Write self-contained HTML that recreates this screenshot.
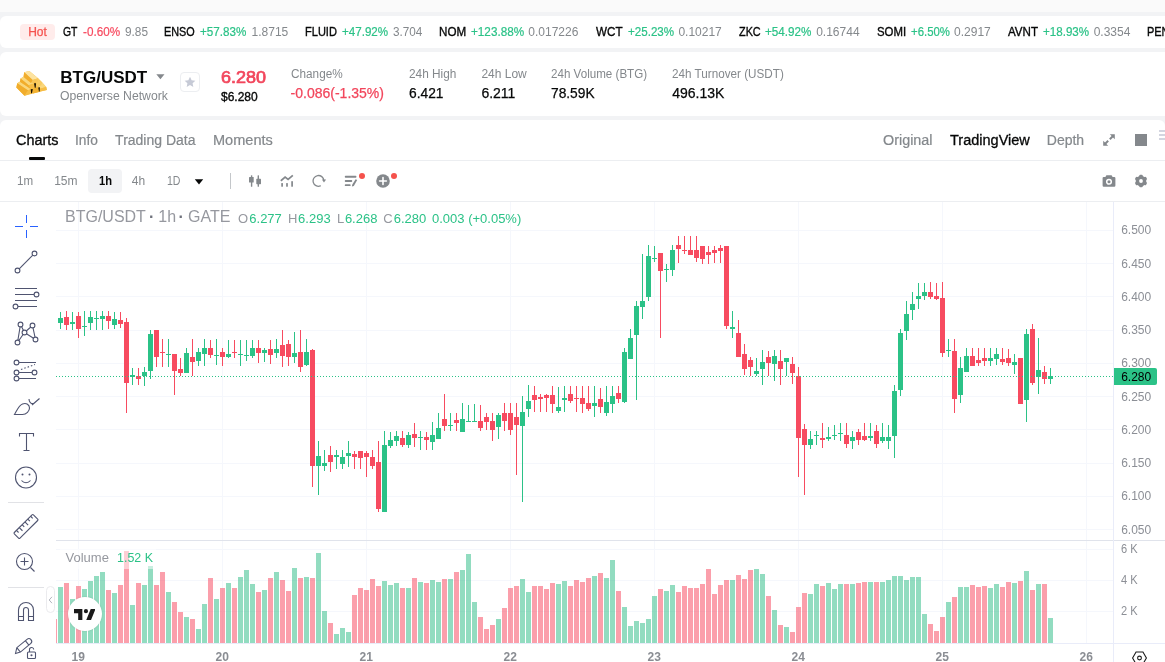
<!DOCTYPE html>
<html lang="en"><head><meta charset="utf-8"><title>BTG/USDT</title><style>
html,body{margin:0;padding:0}
body{width:1165px;height:662px;overflow:hidden;position:relative;background:#f2f3f5;font-family:"Liberation Sans",sans-serif}
.a,.t,.card,.top,.hot,.star{position:absolute}
.t{white-space:nowrap;display:block}
.top{left:0;top:0;width:1165px;height:12px;background:#fafafa}
.card{left:0;width:1165px;background:#fff}
.hot{left:20px;top:24px;width:35px;height:16px;border-radius:4px;background:#ffeceb;color:#f5534f;font-size:12px;line-height:17px;text-align:center;-webkit-text-stroke:0.25px #f5534f}
.star{left:180px;top:72px;width:20px;height:20px;box-sizing:border-box;border:1px solid #eceef1;border-radius:4px;display:flex;align-items:center;justify-content:center;background:#fff}
</style></head><body>
<div class="top"></div>
<div class="card" style="top:16px;height:32px;border-radius:6px 0 0 6px"></div>
<div class="hot">Hot</div>
<span class="t" style="left:63.4px;top:23.0px;font-size:12px;line-height:18px;color:#070808;transform:scaleX(0.8641);transform-origin:0 50%;-webkit-text-stroke:0.35px #070808;">GT</span>
<span class="t" style="left:83.2px;top:23.0px;font-size:12px;line-height:18px;color:#f74b60;transform:scaleX(0.9758);transform-origin:0 50%;-webkit-text-stroke:0.20px #f74b60;">-0.60%</span>
<span class="t" style="left:124.6px;top:23.0px;font-size:12px;line-height:18px;color:#84888c;transform:scaleX(0.9848);transform-origin:0 50%;">9.85</span>
<span class="t" style="left:164.3px;top:23.0px;font-size:12px;line-height:18px;color:#070808;transform:scaleX(0.9027);transform-origin:0 50%;-webkit-text-stroke:0.35px #070808;">ENSO</span>
<span class="t" style="left:200.4px;top:23.0px;font-size:12px;line-height:18px;color:#2bc287;transform:scaleX(0.9705);transform-origin:0 50%;-webkit-text-stroke:0.20px #2bc287;">+57.83%</span>
<span class="t" style="left:251.6px;top:23.0px;font-size:12px;line-height:18px;color:#84888c;">1.8715</span>
<span class="t" style="left:304.5px;top:23.0px;font-size:12px;line-height:18px;color:#070808;transform:scaleX(0.9201);transform-origin:0 50%;-webkit-text-stroke:0.35px #070808;">FLUID</span>
<span class="t" style="left:341.8px;top:23.0px;font-size:12px;line-height:18px;color:#2bc287;transform:scaleX(0.9663);transform-origin:0 50%;-webkit-text-stroke:0.20px #2bc287;">+47.92%</span>
<span class="t" style="left:392.5px;top:23.0px;font-size:12px;line-height:18px;color:#84888c;transform:scaleX(0.9790);transform-origin:0 50%;">3.704</span>
<span class="t" style="left:438.6px;top:23.0px;font-size:12px;line-height:18px;color:#070808;transform:scaleX(0.9680);transform-origin:0 50%;-webkit-text-stroke:0.35px #070808;">NOM</span>
<span class="t" style="left:470.8px;top:23.0px;font-size:12px;line-height:18px;color:#2bc287;transform:scaleX(0.9764);transform-origin:0 50%;-webkit-text-stroke:0.20px #2bc287;">+123.88%</span>
<span class="t" style="left:528.3px;top:23.0px;font-size:12px;line-height:18px;color:#84888c;">0.017226</span>
<span class="t" style="left:596.0px;top:23.0px;font-size:12px;line-height:18px;color:#070808;transform:scaleX(0.9699);transform-origin:0 50%;-webkit-text-stroke:0.35px #070808;">WCT</span>
<span class="t" style="left:627.9px;top:23.0px;font-size:12px;line-height:18px;color:#2bc287;transform:scaleX(0.9663);transform-origin:0 50%;-webkit-text-stroke:0.20px #2bc287;">+25.23%</span>
<span class="t" style="left:678.4px;top:23.0px;font-size:12px;line-height:18px;color:#84888c;">0.10217</span>
<span class="t" style="left:738.6px;top:23.0px;font-size:12px;line-height:18px;color:#070808;transform:scaleX(0.9042);transform-origin:0 50%;-webkit-text-stroke:0.35px #070808;">ZKC</span>
<span class="t" style="left:765.4px;top:23.0px;font-size:12px;line-height:18px;color:#2bc287;transform:scaleX(0.9726);transform-origin:0 50%;-webkit-text-stroke:0.20px #2bc287;">+54.92%</span>
<span class="t" style="left:816.2px;top:23.0px;font-size:12px;line-height:18px;color:#84888c;">0.16744</span>
<span class="t" style="left:876.6px;top:23.0px;font-size:12px;line-height:18px;color:#070808;transform:scaleX(0.9489);transform-origin:0 50%;-webkit-text-stroke:0.35px #070808;">SOMI</span>
<span class="t" style="left:910.8px;top:23.0px;font-size:12px;line-height:18px;color:#2bc287;transform:scaleX(0.9480);transform-origin:0 50%;-webkit-text-stroke:0.20px #2bc287;">+6.50%</span>
<span class="t" style="left:954.1px;top:23.0px;font-size:12px;line-height:18px;color:#84888c;">0.2917</span>
<span class="t" style="left:1008.0px;top:23.0px;font-size:12px;line-height:18px;color:#070808;transform:scaleX(0.9642);transform-origin:0 50%;-webkit-text-stroke:0.35px #070808;">AVNT</span>
<span class="t" style="left:1043.2px;top:23.0px;font-size:12px;line-height:18px;color:#2bc287;transform:scaleX(0.9663);transform-origin:0 50%;-webkit-text-stroke:0.20px #2bc287;">+18.93%</span>
<span class="t" style="left:1093.7px;top:23.0px;font-size:12px;line-height:18px;color:#84888c;">0.3354</span>
<span class="t" style="left:1147.0px;top:23.0px;font-size:12px;line-height:18px;color:#070808;transform:scaleX(0.9119);transform-origin:0 50%;-webkit-text-stroke:0.35px #070808;">PEN</span>
<div class="card" style="top:52px;height:64px;border-radius:6px 0 0 6px"></div>
<svg class="a" style="left:10px;top:64px" width="50" height="40" viewBox="0 0 828 662"><polygon points="320,115 465,235 530,300 600,380 610,430 480,465 240,525 105,390 120,320 165,290 175,240 225,210 235,135" fill="#f6bd45" /><polygon points="120,320 165,295 345,415 300,440" fill="#fad77c" /><polygon points="120,320 300,440 240,525 105,390" fill="#f1ad2c" /><polygon points="300,440 345,415 350,490 240,525" fill="#f6bd45" /><polygon points="375,415 470,385 480,465 380,490" fill="#f3b230" /><polygon points="470,385 530,300 600,380 495,410" fill="#fad77c" /><polygon points="495,410 600,380 610,430 490,455" fill="#f6bd45" /><polygon points="175,240 225,213 400,320 310,350" fill="#fad77c" /><polygon points="175,240 310,350 345,415 165,292" fill="#f1ad2c" /><polygon points="310,350 400,320 410,395 345,415" fill="#f6bd45" /><polygon points="430,300 465,240 530,300 520,350 440,380" fill="#f8cb62" /><polygon points="235,135 320,115 465,235 375,265" fill="#fde3a0" /><polygon points="235,135 375,265 350,320 225,215" fill="#f1ad2c" /><polygon points="375,265 465,235 462,290 350,320" fill="#f8c658" /><polygon points="398,320 432,318 425,392 410,395" fill="#1a1204" /><polygon points="343,418 378,414 365,482 350,488" fill="#1a1204" /><polygon points="468,388 496,384 492,452 480,460" fill="#1a1204" /></svg>
<span class="t" style="left:60.3px;top:65.5px;font-size:17px;line-height:23px;color:#070808;font-weight:700;">BTG/USDT</span>
<svg class="a" style="left:156px;top:74px" width="9" height="6" viewBox="0 0 9 6"><path d="M0.3 0.3h8.2L4.4 5.2z" fill="#84888c"/></svg>
<span class="t" style="left:60.3px;top:87.2px;font-size:12px;line-height:18px;color:#84888c;transform:scaleX(1.0175);transform-origin:0 50%;">Openverse Network</span>
<div class="star"><svg width="12" height="12" viewBox="0 0 24 24"><path d="M12 1.5l3.2 6.9 7.5.9-5.5 5.2 1.4 7.4L12 18.2l-6.6 3.7 1.4-7.4L1.3 9.3l7.5-.9z" fill="#c6cad6"/></svg></div>
<span class="t" style="left:221.0px;top:66.0px;font-size:16.5px;line-height:22px;color:#f2465c;transform:scaleX(1.0898);transform-origin:0 50%;-webkit-text-stroke:0.70px #f2465c;">6.280</span>
<span class="t" style="left:221.0px;top:87.5px;font-size:12px;line-height:18px;color:#070808;-webkit-text-stroke:0.35px #070808;">$6.280</span>
<span class="t" style="left:290.6px;top:65.2px;font-size:12px;line-height:18px;color:#84888c;transform:scaleX(0.9809);transform-origin:0 50%;">Change%</span>
<span class="t" style="left:290.6px;top:83.2px;font-size:14px;line-height:20px;color:#f2465c;-webkit-text-stroke:0.25px #f2465c;">-0.086(-1.35%)</span>
<span class="t" style="left:409.3px;top:65.2px;font-size:12px;line-height:18px;color:#84888c;transform:scaleX(0.9868);transform-origin:0 50%;">24h High</span>
<span class="t" style="left:409.3px;top:83.2px;font-size:14px;line-height:20px;color:#070808;transform:scaleX(0.9848);transform-origin:0 50%;-webkit-text-stroke:0.25px #070808;">6.421</span>
<span class="t" style="left:481.4px;top:65.2px;font-size:12px;line-height:18px;color:#84888c;">24h Low</span>
<span class="t" style="left:481.4px;top:83.2px;font-size:14px;line-height:20px;color:#070808;-webkit-text-stroke:0.25px #070808;">6.211</span>
<span class="t" style="left:551.4px;top:65.2px;font-size:12px;line-height:18px;color:#84888c;transform:scaleX(0.9670);transform-origin:0 50%;">24h Volume (BTG)</span>
<span class="t" style="left:551.4px;top:83.2px;font-size:14px;line-height:20px;color:#070808;transform:scaleX(0.9826);transform-origin:0 50%;-webkit-text-stroke:0.25px #070808;">78.59K</span>
<span class="t" style="left:672.2px;top:65.2px;font-size:12px;line-height:18px;color:#84888c;transform:scaleX(0.9747);transform-origin:0 50%;">24h Turnover (USDT)</span>
<span class="t" style="left:672.2px;top:83.2px;font-size:14px;line-height:20px;color:#070808;-webkit-text-stroke:0.25px #070808;">496.13K</span>
<div class="card" style="top:120px;height:542px;border-radius:6px 6px 0 0"></div>
<span class="t" style="left:16.2px;top:130.4px;font-size:14px;line-height:20px;color:#070808;transform:scaleX(1.0307);transform-origin:0 50%;-webkit-text-stroke:0.30px #070808;">Charts</span>
<span class="t" style="left:75.2px;top:130.4px;font-size:14px;line-height:20px;color:#84888c;transform:scaleX(0.9807);transform-origin:0 50%;-webkit-text-stroke:0.20px #84888c;">Info</span>
<span class="t" style="left:115.1px;top:130.4px;font-size:14px;line-height:20px;color:#84888c;-webkit-text-stroke:0.20px #84888c;">Trading Data</span>
<span class="t" style="left:213.2px;top:130.4px;font-size:14px;line-height:20px;color:#84888c;transform:scaleX(1.0387);transform-origin:0 50%;-webkit-text-stroke:0.20px #84888c;">Moments</span>
<div class="a" style="left:29px;top:157px;width:16px;height:3px;background:#070808;border-radius:1px"></div>
<span class="t" style="left:883.0px;top:130.4px;font-size:14px;line-height:20px;color:#84888c;transform:scaleX(1.0261);transform-origin:0 50%;-webkit-text-stroke:0.20px #84888c;">Original</span>
<span class="t" style="left:950.0px;top:130.4px;font-size:14px;line-height:20px;color:#070808;transform:scaleX(1.0358);transform-origin:0 50%;-webkit-text-stroke:0.30px #070808;">TradingView</span>
<span class="t" style="left:1046.8px;top:130.4px;font-size:14px;line-height:20px;color:#84888c;-webkit-text-stroke:0.20px #84888c;">Depth</span>
<svg class="a" style="left:1103px;top:134px" width="12" height="12" viewBox="0 0 12 12"><path d="M6.800 0.200H11.800V5.200L10 3.400 7.500 5.900 6.100 4.500 8.600 2zM5.200 11.800H0.200V6.800L2 8.600 4.500 6.100 5.900 7.500 3.400 10z" fill="#84888c"/></svg>
<div class="a" style="left:1135px;top:134px;width:12px;height:12px;background:#84888c"></div>
<div class="a" style="left:1159px;top:130px;width:6px;height:2px;background:#d3d5e0;box-shadow:0 4px 0 #d3d5e0,0 8px 0 #d3d5e0"></div>
<div class="a" style="left:0;top:160px;width:1165px;height:1px;background:#eceef1"></div>
<div class="a" style="left:88px;top:169px;width:34px;height:24px;background:#f2f3f5;border-radius:4px"></div>
<span class="t" style="left:16.9px;top:172.4px;font-size:12px;line-height:18px;color:#84888c;transform:scaleX(0.9658);transform-origin:0 50%;">1m</span>
<span class="t" style="left:54.2px;top:172.4px;font-size:12px;line-height:18px;color:#84888c;">15m</span>
<span class="t" style="left:98.5px;top:172.4px;font-size:12px;line-height:18px;color:#070808;font-weight:700;transform:scaleX(0.9283);transform-origin:0 50%;">1h</span>
<span class="t" style="left:131.8px;top:172.4px;font-size:12px;line-height:18px;color:#84888c;">4h</span>
<span class="t" style="left:166.5px;top:172.4px;font-size:12px;line-height:18px;color:#84888c;transform:scaleX(0.8801);transform-origin:0 50%;">1D</span>
<svg class="a" style="left:194px;top:179px" width="10" height="6" viewBox="0 0 10 6"><path d="M0.8 0.3h8.4L5 5.4z" fill="#070808"/></svg>
<div class="a" style="left:230px;top:173px;width:1px;height:16px;background:#c4c7ca"></div>
<svg class="a" style="left:248px;top:174px" width="14" height="14" viewBox="0 0 14 14"><g fill="#84888c"><rect x="1" y="2.900" width="4.700" height="5.600" rx="0.600"/><rect x="2.900" y="1.200" width="1.400" height="11.500" rx="0.500"/><rect x="8.300" y="4.800" width="4.700" height="5.400" rx="0.600"/><rect x="9.600" y="1.200" width="1.400" height="11.500" rx="0.500"/></g></svg>
<svg class="a" style="left:280px;top:174px" width="14" height="14" viewBox="0 0 14 14"><g fill="none" stroke="#84888c" stroke-width="1.700" stroke-linecap="square" stroke-linejoin="miter"><path d="M1.500 6.200l3.600-3.200 3 2.500 4.100-3.600"/></g><g fill="#84888c"><rect x="1.250" y="9.100" width="1.700" height="3.600"/><rect x="6.150" y="9.100" width="1.700" height="3.600"/><rect x="11.250" y="7.200" width="1.700" height="5.500"/></g></svg>
<svg class="a" style="left:312px;top:174px" width="15" height="14" viewBox="0 0 15 14"><path d="M8.350 11.970A5.400 5.400 0 1 1 11.880 6.430" fill="none" stroke="#84888c" stroke-width="1.300" stroke-linecap="round"/><path d="M9.900 5.600h4.200L12 8.400z" fill="#84888c"/></svg>
<svg class="a" style="left:344px;top:175px" width="14" height="12" viewBox="0 0 14 12"><g fill="#84888c"><rect x="0.800" y="0.800" width="11.600" height="1.900" rx="0.700"/><rect x="0.800" y="5" width="7.400" height="1.900" rx="0.700"/><rect x="0.800" y="9.200" width="5.800" height="1.900" rx="0.700"/><path d="M11.6 4.2l1.6 0.9-3.4 5.8-1.9 0.7 0.3-1.8z"/></g></svg>
<div class="a" style="left:359px;top:173px;width:6px;height:6px;border-radius:3px;background:#f5524c"></div>
<svg class="a" style="left:375.8px;top:174px" width="14" height="14" viewBox="0 0 14 14"><circle cx="7" cy="7" r="6.8" fill="#84888c"/><path d="M7 3.6v6.8M3.6 7h6.8" stroke="#fff" stroke-width="1.6" stroke-linecap="round"/></svg>
<div class="a" style="left:391px;top:173px;width:6px;height:6px;border-radius:3px;background:#f5524c"></div>
<svg class="a" style="left:1102px;top:174px" width="14" height="14" viewBox="0 0 14 14"><path d="M4.4 1.2h5.2l1 1.7h1.6a1.2 1.2 0 0 1 1.2 1.2v7.5a1.2 1.2 0 0 1-1.2 1.2H1.8a1.2 1.2 0 0 1-1.2-1.2V4.1a1.2 1.2 0 0 1 1.2-1.2h1.6z" fill="#84888c"/><circle cx="7" cy="7.800" r="2.300" fill="none" stroke="#fff" stroke-width="1.500"/></svg>
<svg class="a" style="left:1134px;top:174px" width="14" height="14" viewBox="0 0 14 14"><g fill="#84888c"><circle cx="7" cy="7" r="5.300"/><rect x="5.200" y="0.700" width="3.600" height="12.600" rx="1.200" transform="rotate(0 7 7)"/><rect x="5.200" y="0.700" width="3.600" height="12.600" rx="1.200" transform="rotate(60 7 7)"/><rect x="5.200" y="0.700" width="3.600" height="12.600" rx="1.200" transform="rotate(120 7 7)"/></g><circle cx="7" cy="7" r="1.900" fill="#fff"/></svg>
<div class="a" style="left:0;top:201px;width:1165px;height:1px;background:#eceef1"></div>
<svg class="a" style="left:0;top:0" width="1165" height="662" viewBox="0 0 1165 662" shape-rendering="crispEdges">
<rect x="56" y="230" width="1057" height="1" fill="#f5f7fc"/>
<rect x="56" y="263" width="1057" height="1" fill="#f5f7fc"/>
<rect x="56" y="296" width="1057" height="1" fill="#f5f7fc"/>
<rect x="56" y="330" width="1057" height="1" fill="#f5f7fc"/>
<rect x="56" y="363" width="1057" height="1" fill="#f5f7fc"/>
<rect x="56" y="396" width="1057" height="1" fill="#f5f7fc"/>
<rect x="56" y="429" width="1057" height="1" fill="#f5f7fc"/>
<rect x="56" y="463" width="1057" height="1" fill="#f5f7fc"/>
<rect x="56" y="496" width="1057" height="1" fill="#f5f7fc"/>
<rect x="56" y="529" width="1057" height="1" fill="#f5f7fc"/>
<rect x="56" y="549" width="1057" height="1" fill="#f5f7fc"/>
<rect x="56" y="580" width="1057" height="1" fill="#f5f7fc"/>
<rect x="56" y="611" width="1057" height="1" fill="#f5f7fc"/>
<rect x="78" y="202" width="1" height="441" fill="#f5f7fc"/>
<rect x="222" y="202" width="1" height="441" fill="#f5f7fc"/>
<rect x="366" y="202" width="1" height="441" fill="#f5f7fc"/>
<rect x="510" y="202" width="1" height="441" fill="#f5f7fc"/>
<rect x="654" y="202" width="1" height="441" fill="#f5f7fc"/>
<rect x="798" y="202" width="1" height="441" fill="#f5f7fc"/>
<rect x="942" y="202" width="1" height="441" fill="#f5f7fc"/>
<rect x="1086" y="202" width="1" height="441" fill="#f5f7fc"/>
<rect x="56" y="540" width="1109" height="1" fill="#e0e3eb"/>
<rect x="56" y="643" width="1109" height="1" fill="#e9ecf9"/>
<rect x="1113" y="202" width="1" height="460" fill="#e9ecf9"/>
<rect x="56" y="619" width="1" height="24" fill="rgba(247,63,87,0.5)"/>
<rect x="58" y="587" width="5" height="56" fill="rgba(37,185,129,0.5)"/>
<rect x="64" y="583" width="5" height="60" fill="rgba(247,63,87,0.5)"/>
<rect x="70" y="599" width="5" height="44" fill="rgba(37,185,129,0.5)"/>
<rect x="76" y="586" width="5" height="57" fill="rgba(247,63,87,0.5)"/>
<rect x="82" y="589" width="5" height="54" fill="rgba(37,185,129,0.5)"/>
<rect x="88" y="581" width="5" height="62" fill="rgba(37,185,129,0.5)"/>
<rect x="94" y="576" width="5" height="67" fill="rgba(37,185,129,0.5)"/>
<rect x="100" y="572" width="5" height="71" fill="rgba(37,185,129,0.5)"/>
<rect x="106" y="590" width="5" height="53" fill="rgba(247,63,87,0.5)"/>
<rect x="112" y="593" width="5" height="50" fill="rgba(37,185,129,0.5)"/>
<rect x="118" y="585" width="5" height="58" fill="rgba(247,63,87,0.5)"/>
<rect x="124" y="551" width="5" height="92" fill="rgba(247,63,87,0.5)"/>
<rect x="130" y="605" width="5" height="38" fill="rgba(37,185,129,0.5)"/>
<rect x="136" y="583" width="5" height="60" fill="rgba(247,63,87,0.5)"/>
<rect x="142" y="585" width="5" height="58" fill="rgba(37,185,129,0.5)"/>
<rect x="148" y="566" width="5" height="77" fill="rgba(37,185,129,0.5)"/>
<rect x="154" y="585" width="5" height="58" fill="rgba(247,63,87,0.5)"/>
<rect x="160" y="572" width="5" height="71" fill="rgba(247,63,87,0.5)"/>
<rect x="166" y="592" width="5" height="51" fill="rgba(37,185,129,0.5)"/>
<rect x="172" y="602" width="5" height="41" fill="rgba(247,63,87,0.5)"/>
<rect x="178" y="612" width="5" height="31" fill="rgba(247,63,87,0.5)"/>
<rect x="184" y="617" width="5" height="26" fill="rgba(37,185,129,0.5)"/>
<rect x="190" y="619" width="5" height="24" fill="rgba(247,63,87,0.5)"/>
<rect x="196" y="629" width="5" height="14" fill="rgba(37,185,129,0.5)"/>
<rect x="202" y="604" width="5" height="39" fill="rgba(37,185,129,0.5)"/>
<rect x="208" y="578" width="5" height="65" fill="rgba(247,63,87,0.5)"/>
<rect x="214" y="599" width="5" height="44" fill="rgba(37,185,129,0.5)"/>
<rect x="220" y="588" width="5" height="55" fill="rgba(247,63,87,0.5)"/>
<rect x="226" y="583" width="5" height="60" fill="rgba(37,185,129,0.5)"/>
<rect x="232" y="588" width="5" height="55" fill="rgba(247,63,87,0.5)"/>
<rect x="238" y="577" width="5" height="66" fill="rgba(37,185,129,0.5)"/>
<rect x="244" y="570" width="5" height="73" fill="rgba(37,185,129,0.5)"/>
<rect x="250" y="584" width="5" height="59" fill="rgba(37,185,129,0.5)"/>
<rect x="256" y="592" width="5" height="51" fill="rgba(247,63,87,0.5)"/>
<rect x="262" y="590" width="5" height="53" fill="rgba(37,185,129,0.5)"/>
<rect x="268" y="578" width="5" height="65" fill="rgba(247,63,87,0.5)"/>
<rect x="274" y="572" width="5" height="71" fill="rgba(37,185,129,0.5)"/>
<rect x="280" y="580" width="5" height="63" fill="rgba(247,63,87,0.5)"/>
<rect x="286" y="591" width="5" height="52" fill="rgba(247,63,87,0.5)"/>
<rect x="292" y="568" width="5" height="75" fill="rgba(37,185,129,0.5)"/>
<rect x="298" y="578" width="5" height="65" fill="rgba(247,63,87,0.5)"/>
<rect x="304" y="577" width="5" height="66" fill="rgba(37,185,129,0.5)"/>
<rect x="310" y="578" width="5" height="65" fill="rgba(247,63,87,0.5)"/>
<rect x="316" y="553" width="5" height="90" fill="rgba(37,185,129,0.5)"/>
<rect x="322" y="611" width="5" height="32" fill="rgba(37,185,129,0.5)"/>
<rect x="328" y="623" width="5" height="20" fill="rgba(247,63,87,0.5)"/>
<rect x="334" y="634" width="5" height="9" fill="rgba(37,185,129,0.5)"/>
<rect x="340" y="628" width="5" height="15" fill="rgba(37,185,129,0.5)"/>
<rect x="346" y="632" width="5" height="11" fill="rgba(37,185,129,0.5)"/>
<rect x="352" y="595" width="5" height="48" fill="rgba(247,63,87,0.5)"/>
<rect x="358" y="588" width="5" height="55" fill="rgba(247,63,87,0.5)"/>
<rect x="364" y="590" width="5" height="53" fill="rgba(247,63,87,0.5)"/>
<rect x="370" y="579" width="5" height="64" fill="rgba(247,63,87,0.5)"/>
<rect x="376" y="586" width="5" height="57" fill="rgba(247,63,87,0.5)"/>
<rect x="382" y="581" width="5" height="62" fill="rgba(37,185,129,0.5)"/>
<rect x="388" y="585" width="5" height="58" fill="rgba(37,185,129,0.5)"/>
<rect x="394" y="583" width="5" height="60" fill="rgba(37,185,129,0.5)"/>
<rect x="400" y="588" width="5" height="55" fill="rgba(247,63,87,0.5)"/>
<rect x="406" y="588" width="5" height="55" fill="rgba(37,185,129,0.5)"/>
<rect x="412" y="578" width="5" height="65" fill="rgba(247,63,87,0.5)"/>
<rect x="418" y="582" width="5" height="61" fill="rgba(37,185,129,0.5)"/>
<rect x="424" y="583" width="5" height="60" fill="rgba(247,63,87,0.5)"/>
<rect x="430" y="580" width="5" height="63" fill="rgba(37,185,129,0.5)"/>
<rect x="436" y="582" width="5" height="61" fill="rgba(37,185,129,0.5)"/>
<rect x="442" y="579" width="5" height="64" fill="rgba(247,63,87,0.5)"/>
<rect x="448" y="579" width="5" height="64" fill="rgba(37,185,129,0.5)"/>
<rect x="454" y="572" width="5" height="71" fill="rgba(247,63,87,0.5)"/>
<rect x="460" y="570" width="5" height="73" fill="rgba(37,185,129,0.5)"/>
<rect x="466" y="554" width="5" height="89" fill="rgba(37,185,129,0.5)"/>
<rect x="472" y="602" width="5" height="41" fill="rgba(37,185,129,0.5)"/>
<rect x="478" y="617" width="5" height="26" fill="rgba(247,63,87,0.5)"/>
<rect x="484" y="629" width="5" height="14" fill="rgba(247,63,87,0.5)"/>
<rect x="490" y="625" width="5" height="18" fill="rgba(247,63,87,0.5)"/>
<rect x="496" y="619" width="5" height="24" fill="rgba(37,185,129,0.5)"/>
<rect x="502" y="608" width="5" height="35" fill="rgba(247,63,87,0.5)"/>
<rect x="508" y="588" width="5" height="55" fill="rgba(247,63,87,0.5)"/>
<rect x="514" y="586" width="5" height="57" fill="rgba(247,63,87,0.5)"/>
<rect x="520" y="579" width="5" height="64" fill="rgba(37,185,129,0.5)"/>
<rect x="526" y="592" width="5" height="51" fill="rgba(37,185,129,0.5)"/>
<rect x="532" y="586" width="5" height="57" fill="rgba(247,63,87,0.5)"/>
<rect x="538" y="586" width="5" height="57" fill="rgba(247,63,87,0.5)"/>
<rect x="544" y="589" width="5" height="54" fill="rgba(247,63,87,0.5)"/>
<rect x="550" y="583" width="5" height="60" fill="rgba(247,63,87,0.5)"/>
<rect x="556" y="584" width="5" height="59" fill="rgba(37,185,129,0.5)"/>
<rect x="562" y="581" width="5" height="62" fill="rgba(37,185,129,0.5)"/>
<rect x="568" y="586" width="5" height="57" fill="rgba(247,63,87,0.5)"/>
<rect x="574" y="580" width="5" height="63" fill="rgba(247,63,87,0.5)"/>
<rect x="580" y="582" width="5" height="61" fill="rgba(247,63,87,0.5)"/>
<rect x="586" y="578" width="5" height="65" fill="rgba(247,63,87,0.5)"/>
<rect x="592" y="576" width="5" height="67" fill="rgba(37,185,129,0.5)"/>
<rect x="598" y="573" width="5" height="70" fill="rgba(247,63,87,0.5)"/>
<rect x="604" y="578" width="5" height="65" fill="rgba(37,185,129,0.5)"/>
<rect x="610" y="560" width="5" height="83" fill="rgba(37,185,129,0.5)"/>
<rect x="616" y="591" width="5" height="52" fill="rgba(247,63,87,0.5)"/>
<rect x="622" y="607" width="5" height="36" fill="rgba(37,185,129,0.5)"/>
<rect x="628" y="626" width="5" height="17" fill="rgba(37,185,129,0.5)"/>
<rect x="634" y="621" width="5" height="22" fill="rgba(37,185,129,0.5)"/>
<rect x="640" y="623" width="5" height="20" fill="rgba(37,185,129,0.5)"/>
<rect x="646" y="619" width="5" height="24" fill="rgba(37,185,129,0.5)"/>
<rect x="652" y="596" width="5" height="47" fill="rgba(37,185,129,0.5)"/>
<rect x="658" y="589" width="5" height="54" fill="rgba(247,63,87,0.5)"/>
<rect x="664" y="591" width="5" height="52" fill="rgba(37,185,129,0.5)"/>
<rect x="670" y="585" width="5" height="58" fill="rgba(37,185,129,0.5)"/>
<rect x="676" y="592" width="5" height="51" fill="rgba(247,63,87,0.5)"/>
<rect x="682" y="586" width="5" height="57" fill="rgba(247,63,87,0.5)"/>
<rect x="688" y="588" width="5" height="55" fill="rgba(247,63,87,0.5)"/>
<rect x="694" y="588" width="5" height="55" fill="rgba(247,63,87,0.5)"/>
<rect x="700" y="584" width="5" height="59" fill="rgba(247,63,87,0.5)"/>
<rect x="706" y="569" width="5" height="74" fill="rgba(247,63,87,0.5)"/>
<rect x="712" y="594" width="5" height="49" fill="rgba(247,63,87,0.5)"/>
<rect x="718" y="585" width="5" height="58" fill="rgba(247,63,87,0.5)"/>
<rect x="724" y="580" width="5" height="63" fill="rgba(247,63,87,0.5)"/>
<rect x="730" y="580" width="5" height="63" fill="rgba(37,185,129,0.5)"/>
<rect x="736" y="575" width="5" height="68" fill="rgba(247,63,87,0.5)"/>
<rect x="742" y="579" width="5" height="64" fill="rgba(247,63,87,0.5)"/>
<rect x="748" y="570" width="5" height="73" fill="rgba(247,63,87,0.5)"/>
<rect x="754" y="569" width="5" height="74" fill="rgba(37,185,129,0.5)"/>
<rect x="760" y="574" width="5" height="69" fill="rgba(37,185,129,0.5)"/>
<rect x="766" y="596" width="5" height="47" fill="rgba(247,63,87,0.5)"/>
<rect x="772" y="610" width="5" height="33" fill="rgba(37,185,129,0.5)"/>
<rect x="778" y="625" width="5" height="18" fill="rgba(247,63,87,0.5)"/>
<rect x="784" y="627" width="5" height="16" fill="rgba(37,185,129,0.5)"/>
<rect x="790" y="632" width="5" height="11" fill="rgba(247,63,87,0.5)"/>
<rect x="796" y="607" width="5" height="36" fill="rgba(247,63,87,0.5)"/>
<rect x="802" y="593" width="5" height="50" fill="rgba(247,63,87,0.5)"/>
<rect x="808" y="594" width="5" height="49" fill="rgba(37,185,129,0.5)"/>
<rect x="814" y="584" width="5" height="59" fill="rgba(37,185,129,0.5)"/>
<rect x="820" y="586" width="5" height="57" fill="rgba(247,63,87,0.5)"/>
<rect x="826" y="583" width="5" height="60" fill="rgba(37,185,129,0.5)"/>
<rect x="832" y="589" width="5" height="54" fill="rgba(37,185,129,0.5)"/>
<rect x="838" y="584" width="5" height="59" fill="rgba(37,185,129,0.5)"/>
<rect x="844" y="584" width="5" height="59" fill="rgba(247,63,87,0.5)"/>
<rect x="850" y="584" width="5" height="59" fill="rgba(37,185,129,0.5)"/>
<rect x="856" y="583" width="5" height="60" fill="rgba(247,63,87,0.5)"/>
<rect x="862" y="582" width="5" height="61" fill="rgba(247,63,87,0.5)"/>
<rect x="868" y="582" width="5" height="61" fill="rgba(37,185,129,0.5)"/>
<rect x="874" y="582" width="5" height="61" fill="rgba(247,63,87,0.5)"/>
<rect x="880" y="582" width="5" height="61" fill="rgba(37,185,129,0.5)"/>
<rect x="886" y="580" width="5" height="63" fill="rgba(37,185,129,0.5)"/>
<rect x="892" y="576" width="5" height="67" fill="rgba(37,185,129,0.5)"/>
<rect x="898" y="576" width="5" height="67" fill="rgba(37,185,129,0.5)"/>
<rect x="904" y="580" width="5" height="63" fill="rgba(37,185,129,0.5)"/>
<rect x="910" y="577" width="5" height="66" fill="rgba(37,185,129,0.5)"/>
<rect x="916" y="577" width="5" height="66" fill="rgba(37,185,129,0.5)"/>
<rect x="922" y="614" width="5" height="29" fill="rgba(37,185,129,0.5)"/>
<rect x="928" y="624" width="5" height="19" fill="rgba(247,63,87,0.5)"/>
<rect x="934" y="631" width="5" height="12" fill="rgba(247,63,87,0.5)"/>
<rect x="940" y="617" width="5" height="26" fill="rgba(247,63,87,0.5)"/>
<rect x="946" y="602" width="5" height="41" fill="rgba(37,185,129,0.5)"/>
<rect x="952" y="597" width="5" height="46" fill="rgba(247,63,87,0.5)"/>
<rect x="958" y="587" width="5" height="56" fill="rgba(37,185,129,0.5)"/>
<rect x="964" y="587" width="5" height="56" fill="rgba(37,185,129,0.5)"/>
<rect x="970" y="585" width="5" height="58" fill="rgba(247,63,87,0.5)"/>
<rect x="976" y="587" width="5" height="56" fill="rgba(247,63,87,0.5)"/>
<rect x="982" y="586" width="5" height="57" fill="rgba(247,63,87,0.5)"/>
<rect x="988" y="588" width="5" height="55" fill="rgba(37,185,129,0.5)"/>
<rect x="994" y="584" width="5" height="59" fill="rgba(37,185,129,0.5)"/>
<rect x="1000" y="587" width="5" height="56" fill="rgba(247,63,87,0.5)"/>
<rect x="1006" y="582" width="5" height="61" fill="rgba(247,63,87,0.5)"/>
<rect x="1012" y="583" width="5" height="60" fill="rgba(37,185,129,0.5)"/>
<rect x="1018" y="581" width="5" height="62" fill="rgba(247,63,87,0.5)"/>
<rect x="1024" y="571" width="5" height="72" fill="rgba(37,185,129,0.5)"/>
<rect x="1030" y="590" width="5" height="53" fill="rgba(247,63,87,0.5)"/>
<rect x="1036" y="584" width="5" height="59" fill="rgba(37,185,129,0.5)"/>
<rect x="1042" y="584" width="5" height="59" fill="rgba(247,63,87,0.5)"/>
<rect x="1048" y="618" width="5" height="25" fill="rgba(37,185,129,0.5)"/>
<rect x="60" y="312" width="1" height="17" fill="#2bc287"/>
<rect x="58" y="318" width="5" height="5" fill="#2bc287"/>
<rect x="66" y="311" width="1" height="19" fill="#f74b60"/>
<rect x="64" y="317" width="5" height="8" fill="#f74b60"/>
<rect x="72" y="312" width="1" height="18" fill="#2bc287"/>
<rect x="70" y="322" width="5" height="2" fill="#2bc287"/>
<rect x="78" y="312" width="1" height="26" fill="#f74b60"/>
<rect x="76" y="316" width="5" height="13" fill="#f74b60"/>
<rect x="84" y="311" width="1" height="25" fill="#2bc287"/>
<rect x="82" y="326" width="5" height="1" fill="#2bc287"/>
<rect x="90" y="311" width="1" height="19" fill="#2bc287"/>
<rect x="88" y="317" width="5" height="6" fill="#2bc287"/>
<rect x="96" y="311" width="1" height="19" fill="#2bc287"/>
<rect x="94" y="318" width="5" height="1" fill="#2bc287"/>
<rect x="102" y="311" width="1" height="19" fill="#2bc287"/>
<rect x="100" y="316" width="5" height="3" fill="#2bc287"/>
<rect x="108" y="311" width="1" height="18" fill="#f74b60"/>
<rect x="106" y="316" width="5" height="5" fill="#f74b60"/>
<rect x="114" y="312" width="1" height="17" fill="#2bc287"/>
<rect x="112" y="319" width="5" height="6" fill="#2bc287"/>
<rect x="120" y="312" width="1" height="16" fill="#f74b60"/>
<rect x="118" y="320" width="5" height="4" fill="#f74b60"/>
<rect x="126" y="318" width="1" height="95" fill="#f74b60"/>
<rect x="124" y="322" width="5" height="61" fill="#f74b60"/>
<rect x="132" y="368" width="1" height="17" fill="#2bc287"/>
<rect x="130" y="375" width="5" height="2" fill="#2bc287"/>
<rect x="138" y="368" width="1" height="17" fill="#f74b60"/>
<rect x="136" y="376" width="5" height="3" fill="#f74b60"/>
<rect x="144" y="367" width="1" height="19" fill="#2bc287"/>
<rect x="142" y="372" width="5" height="4" fill="#2bc287"/>
<rect x="150" y="330" width="1" height="49" fill="#2bc287"/>
<rect x="148" y="334" width="5" height="37" fill="#2bc287"/>
<rect x="156" y="330" width="1" height="37" fill="#f74b60"/>
<rect x="154" y="330" width="5" height="27" fill="#f74b60"/>
<rect x="162" y="339" width="1" height="28" fill="#f74b60"/>
<rect x="160" y="352" width="5" height="1" fill="#f74b60"/>
<rect x="168" y="339" width="1" height="28" fill="#2bc287"/>
<rect x="166" y="354" width="5" height="1" fill="#2bc287"/>
<rect x="174" y="354" width="1" height="41" fill="#f74b60"/>
<rect x="172" y="354" width="5" height="17" fill="#f74b60"/>
<rect x="180" y="358" width="1" height="18" fill="#f74b60"/>
<rect x="178" y="369" width="5" height="4" fill="#f74b60"/>
<rect x="186" y="348" width="1" height="25" fill="#2bc287"/>
<rect x="184" y="353" width="5" height="20" fill="#2bc287"/>
<rect x="192" y="339" width="1" height="37" fill="#f74b60"/>
<rect x="190" y="357" width="5" height="5" fill="#f74b60"/>
<rect x="198" y="348" width="1" height="18" fill="#2bc287"/>
<rect x="196" y="352" width="5" height="9" fill="#2bc287"/>
<rect x="204" y="339" width="1" height="27" fill="#2bc287"/>
<rect x="202" y="348" width="5" height="6" fill="#2bc287"/>
<rect x="210" y="340" width="1" height="18" fill="#f74b60"/>
<rect x="208" y="348" width="5" height="7" fill="#f74b60"/>
<rect x="216" y="339" width="1" height="26" fill="#2bc287"/>
<rect x="214" y="355" width="5" height="1" fill="#2bc287"/>
<rect x="222" y="348" width="1" height="18" fill="#f74b60"/>
<rect x="220" y="352" width="5" height="5" fill="#f74b60"/>
<rect x="228" y="340" width="1" height="18" fill="#2bc287"/>
<rect x="226" y="354" width="5" height="3" fill="#2bc287"/>
<rect x="234" y="340" width="1" height="18" fill="#f74b60"/>
<rect x="232" y="352" width="5" height="1" fill="#f74b60"/>
<rect x="240" y="340" width="1" height="26" fill="#2bc287"/>
<rect x="238" y="354" width="5" height="1" fill="#2bc287"/>
<rect x="246" y="340" width="1" height="21" fill="#2bc287"/>
<rect x="244" y="355" width="5" height="1" fill="#2bc287"/>
<rect x="252" y="340" width="1" height="18" fill="#2bc287"/>
<rect x="250" y="348" width="5" height="8" fill="#2bc287"/>
<rect x="258" y="340" width="1" height="23" fill="#f74b60"/>
<rect x="256" y="348" width="5" height="5" fill="#f74b60"/>
<rect x="264" y="348" width="1" height="14" fill="#2bc287"/>
<rect x="262" y="350" width="5" height="3" fill="#2bc287"/>
<rect x="270" y="340" width="1" height="24" fill="#f74b60"/>
<rect x="268" y="349" width="5" height="6" fill="#f74b60"/>
<rect x="276" y="339" width="1" height="19" fill="#2bc287"/>
<rect x="274" y="349" width="5" height="4" fill="#2bc287"/>
<rect x="282" y="330" width="1" height="37" fill="#f74b60"/>
<rect x="280" y="345" width="5" height="11" fill="#f74b60"/>
<rect x="288" y="340" width="1" height="26" fill="#f74b60"/>
<rect x="286" y="344" width="5" height="13" fill="#f74b60"/>
<rect x="294" y="332" width="1" height="31" fill="#2bc287"/>
<rect x="292" y="353" width="5" height="4" fill="#2bc287"/>
<rect x="300" y="330" width="1" height="42" fill="#f74b60"/>
<rect x="298" y="352" width="5" height="15" fill="#f74b60"/>
<rect x="306" y="339" width="1" height="27" fill="#2bc287"/>
<rect x="304" y="352" width="5" height="13" fill="#2bc287"/>
<rect x="312" y="349" width="1" height="138" fill="#f74b60"/>
<rect x="310" y="350" width="5" height="116" fill="#f74b60"/>
<rect x="318" y="441" width="1" height="54" fill="#2bc287"/>
<rect x="316" y="456" width="5" height="10" fill="#2bc287"/>
<rect x="324" y="450" width="1" height="21" fill="#2bc287"/>
<rect x="322" y="463" width="5" height="3" fill="#2bc287"/>
<rect x="330" y="446" width="1" height="26" fill="#f74b60"/>
<rect x="328" y="455" width="5" height="7" fill="#f74b60"/>
<rect x="336" y="450" width="1" height="19" fill="#2bc287"/>
<rect x="334" y="455" width="5" height="2" fill="#2bc287"/>
<rect x="342" y="450" width="1" height="19" fill="#2bc287"/>
<rect x="340" y="457" width="5" height="7" fill="#2bc287"/>
<rect x="348" y="441" width="1" height="26" fill="#2bc287"/>
<rect x="346" y="453" width="5" height="3" fill="#2bc287"/>
<rect x="354" y="451" width="1" height="18" fill="#f74b60"/>
<rect x="352" y="454" width="5" height="3" fill="#f74b60"/>
<rect x="360" y="451" width="1" height="18" fill="#f74b60"/>
<rect x="358" y="451" width="5" height="7" fill="#f74b60"/>
<rect x="366" y="451" width="1" height="26" fill="#f74b60"/>
<rect x="364" y="453" width="5" height="4" fill="#f74b60"/>
<rect x="372" y="450" width="1" height="19" fill="#f74b60"/>
<rect x="370" y="457" width="5" height="9" fill="#f74b60"/>
<rect x="378" y="441" width="1" height="71" fill="#f74b60"/>
<rect x="376" y="462" width="5" height="47" fill="#f74b60"/>
<rect x="384" y="431" width="1" height="81" fill="#2bc287"/>
<rect x="382" y="445" width="5" height="67" fill="#2bc287"/>
<rect x="390" y="432" width="1" height="16" fill="#2bc287"/>
<rect x="388" y="440" width="5" height="6" fill="#2bc287"/>
<rect x="396" y="431" width="1" height="15" fill="#2bc287"/>
<rect x="394" y="436" width="5" height="5" fill="#2bc287"/>
<rect x="402" y="431" width="1" height="16" fill="#f74b60"/>
<rect x="400" y="438" width="5" height="7" fill="#f74b60"/>
<rect x="408" y="432" width="1" height="16" fill="#2bc287"/>
<rect x="406" y="435" width="5" height="10" fill="#2bc287"/>
<rect x="414" y="423" width="1" height="24" fill="#f74b60"/>
<rect x="412" y="434" width="5" height="4" fill="#f74b60"/>
<rect x="420" y="431" width="1" height="19" fill="#2bc287"/>
<rect x="418" y="437" width="5" height="1" fill="#2bc287"/>
<rect x="426" y="432" width="1" height="18" fill="#f74b60"/>
<rect x="424" y="437" width="5" height="3" fill="#f74b60"/>
<rect x="432" y="422" width="1" height="28" fill="#2bc287"/>
<rect x="430" y="435" width="5" height="7" fill="#2bc287"/>
<rect x="438" y="413" width="1" height="26" fill="#2bc287"/>
<rect x="436" y="428" width="5" height="11" fill="#2bc287"/>
<rect x="444" y="394" width="1" height="37" fill="#f74b60"/>
<rect x="442" y="419" width="5" height="7" fill="#f74b60"/>
<rect x="450" y="413" width="1" height="18" fill="#2bc287"/>
<rect x="448" y="425" width="5" height="1" fill="#2bc287"/>
<rect x="456" y="413" width="1" height="18" fill="#f74b60"/>
<rect x="454" y="420" width="5" height="3" fill="#f74b60"/>
<rect x="462" y="403" width="1" height="29" fill="#2bc287"/>
<rect x="460" y="419" width="5" height="13" fill="#2bc287"/>
<rect x="468" y="405" width="1" height="17" fill="#2bc287"/>
<rect x="466" y="421" width="5" height="1" fill="#2bc287"/>
<rect x="474" y="404" width="1" height="18" fill="#2bc287"/>
<rect x="472" y="421" width="5" height="1" fill="#2bc287"/>
<rect x="480" y="405" width="1" height="26" fill="#f74b60"/>
<rect x="478" y="421" width="5" height="7" fill="#f74b60"/>
<rect x="486" y="413" width="1" height="17" fill="#f74b60"/>
<rect x="484" y="417" width="5" height="5" fill="#f74b60"/>
<rect x="492" y="413" width="1" height="28" fill="#f74b60"/>
<rect x="490" y="421" width="5" height="9" fill="#f74b60"/>
<rect x="498" y="413" width="1" height="26" fill="#2bc287"/>
<rect x="496" y="415" width="5" height="12" fill="#2bc287"/>
<rect x="504" y="403" width="1" height="28" fill="#f74b60"/>
<rect x="502" y="413" width="5" height="8" fill="#f74b60"/>
<rect x="510" y="403" width="1" height="32" fill="#f74b60"/>
<rect x="508" y="413" width="5" height="17" fill="#f74b60"/>
<rect x="516" y="403" width="1" height="72" fill="#f74b60"/>
<rect x="514" y="417" width="5" height="8" fill="#f74b60"/>
<rect x="522" y="396" width="1" height="106" fill="#2bc287"/>
<rect x="520" y="412" width="5" height="14" fill="#2bc287"/>
<rect x="528" y="385" width="1" height="32" fill="#2bc287"/>
<rect x="526" y="401" width="5" height="8" fill="#2bc287"/>
<rect x="534" y="386" width="1" height="26" fill="#f74b60"/>
<rect x="532" y="395" width="5" height="5" fill="#f74b60"/>
<rect x="540" y="394" width="1" height="18" fill="#f74b60"/>
<rect x="538" y="397" width="5" height="2" fill="#f74b60"/>
<rect x="546" y="394" width="1" height="18" fill="#f74b60"/>
<rect x="544" y="395" width="5" height="3" fill="#f74b60"/>
<rect x="552" y="386" width="1" height="27" fill="#f74b60"/>
<rect x="550" y="395" width="5" height="9" fill="#f74b60"/>
<rect x="558" y="387" width="1" height="26" fill="#2bc287"/>
<rect x="556" y="407" width="5" height="4" fill="#2bc287"/>
<rect x="564" y="386" width="1" height="26" fill="#2bc287"/>
<rect x="562" y="398" width="5" height="2" fill="#2bc287"/>
<rect x="570" y="386" width="1" height="17" fill="#f74b60"/>
<rect x="568" y="394" width="5" height="7" fill="#f74b60"/>
<rect x="576" y="386" width="1" height="26" fill="#f74b60"/>
<rect x="574" y="398" width="5" height="1" fill="#f74b60"/>
<rect x="582" y="386" width="1" height="27" fill="#f74b60"/>
<rect x="580" y="398" width="5" height="6" fill="#f74b60"/>
<rect x="588" y="386" width="1" height="25" fill="#f74b60"/>
<rect x="586" y="403" width="5" height="6" fill="#f74b60"/>
<rect x="594" y="386" width="1" height="31" fill="#2bc287"/>
<rect x="592" y="403" width="5" height="3" fill="#2bc287"/>
<rect x="600" y="388" width="1" height="25" fill="#f74b60"/>
<rect x="598" y="399" width="5" height="8" fill="#f74b60"/>
<rect x="606" y="386" width="1" height="30" fill="#2bc287"/>
<rect x="604" y="402" width="5" height="11" fill="#2bc287"/>
<rect x="612" y="386" width="1" height="27" fill="#2bc287"/>
<rect x="610" y="396" width="5" height="8" fill="#2bc287"/>
<rect x="618" y="386" width="1" height="17" fill="#f74b60"/>
<rect x="616" y="393" width="5" height="6" fill="#f74b60"/>
<rect x="624" y="348" width="1" height="55" fill="#2bc287"/>
<rect x="622" y="352" width="5" height="50" fill="#2bc287"/>
<rect x="630" y="329" width="1" height="30" fill="#2bc287"/>
<rect x="628" y="338" width="5" height="21" fill="#2bc287"/>
<rect x="636" y="301" width="1" height="99" fill="#2bc287"/>
<rect x="634" y="306" width="5" height="29" fill="#2bc287"/>
<rect x="642" y="254" width="1" height="65" fill="#2bc287"/>
<rect x="640" y="301" width="5" height="6" fill="#2bc287"/>
<rect x="648" y="245" width="1" height="56" fill="#2bc287"/>
<rect x="646" y="256" width="5" height="41" fill="#2bc287"/>
<rect x="654" y="246" width="1" height="16" fill="#2bc287"/>
<rect x="652" y="258" width="5" height="1" fill="#2bc287"/>
<rect x="660" y="253" width="1" height="85" fill="#f74b60"/>
<rect x="658" y="253" width="5" height="18" fill="#f74b60"/>
<rect x="666" y="264" width="1" height="18" fill="#2bc287"/>
<rect x="664" y="269" width="5" height="1" fill="#2bc287"/>
<rect x="672" y="245" width="1" height="31" fill="#2bc287"/>
<rect x="670" y="250" width="5" height="20" fill="#2bc287"/>
<rect x="678" y="236" width="1" height="27" fill="#f74b60"/>
<rect x="676" y="245" width="5" height="4" fill="#f74b60"/>
<rect x="684" y="236" width="1" height="18" fill="#f74b60"/>
<rect x="682" y="250" width="5" height="1" fill="#f74b60"/>
<rect x="690" y="236" width="1" height="19" fill="#f74b60"/>
<rect x="688" y="250" width="5" height="5" fill="#f74b60"/>
<rect x="696" y="236" width="1" height="26" fill="#f74b60"/>
<rect x="694" y="250" width="5" height="8" fill="#f74b60"/>
<rect x="702" y="246" width="1" height="18" fill="#f74b60"/>
<rect x="700" y="246" width="5" height="13" fill="#f74b60"/>
<rect x="708" y="246" width="1" height="18" fill="#f74b60"/>
<rect x="706" y="252" width="5" height="3" fill="#f74b60"/>
<rect x="714" y="246" width="1" height="17" fill="#f74b60"/>
<rect x="712" y="250" width="5" height="3" fill="#f74b60"/>
<rect x="720" y="245" width="1" height="18" fill="#f74b60"/>
<rect x="718" y="248" width="5" height="3" fill="#f74b60"/>
<rect x="726" y="246" width="1" height="83" fill="#f74b60"/>
<rect x="724" y="246" width="5" height="80" fill="#f74b60"/>
<rect x="732" y="311" width="1" height="27" fill="#2bc287"/>
<rect x="730" y="327" width="5" height="2" fill="#2bc287"/>
<rect x="738" y="320" width="1" height="37" fill="#f74b60"/>
<rect x="736" y="333" width="5" height="24" fill="#f74b60"/>
<rect x="744" y="344" width="1" height="31" fill="#f74b60"/>
<rect x="742" y="354" width="5" height="15" fill="#f74b60"/>
<rect x="750" y="357" width="1" height="19" fill="#f74b60"/>
<rect x="748" y="360" width="5" height="7" fill="#f74b60"/>
<rect x="756" y="358" width="1" height="18" fill="#2bc287"/>
<rect x="754" y="371" width="5" height="3" fill="#2bc287"/>
<rect x="762" y="350" width="1" height="35" fill="#2bc287"/>
<rect x="760" y="362" width="5" height="7" fill="#2bc287"/>
<rect x="768" y="351" width="1" height="25" fill="#f74b60"/>
<rect x="766" y="357" width="5" height="6" fill="#f74b60"/>
<rect x="774" y="350" width="1" height="31" fill="#2bc287"/>
<rect x="772" y="356" width="5" height="8" fill="#2bc287"/>
<rect x="780" y="350" width="1" height="35" fill="#f74b60"/>
<rect x="778" y="361" width="5" height="8" fill="#f74b60"/>
<rect x="786" y="358" width="1" height="18" fill="#2bc287"/>
<rect x="784" y="358" width="5" height="4" fill="#2bc287"/>
<rect x="792" y="357" width="1" height="27" fill="#f74b60"/>
<rect x="790" y="364" width="5" height="9" fill="#f74b60"/>
<rect x="798" y="367" width="1" height="110" fill="#f74b60"/>
<rect x="796" y="376" width="5" height="62" fill="#f74b60"/>
<rect x="804" y="424" width="1" height="71" fill="#f74b60"/>
<rect x="802" y="429" width="5" height="16" fill="#f74b60"/>
<rect x="810" y="431" width="1" height="18" fill="#2bc287"/>
<rect x="808" y="439" width="5" height="6" fill="#2bc287"/>
<rect x="816" y="431" width="1" height="14" fill="#2bc287"/>
<rect x="814" y="435" width="5" height="1" fill="#2bc287"/>
<rect x="822" y="423" width="1" height="25" fill="#f74b60"/>
<rect x="820" y="438" width="5" height="2" fill="#f74b60"/>
<rect x="828" y="427" width="1" height="14" fill="#2bc287"/>
<rect x="826" y="437" width="5" height="2" fill="#2bc287"/>
<rect x="834" y="425" width="1" height="15" fill="#2bc287"/>
<rect x="832" y="435" width="5" height="1" fill="#2bc287"/>
<rect x="840" y="423" width="1" height="18" fill="#2bc287"/>
<rect x="838" y="433" width="5" height="1" fill="#2bc287"/>
<rect x="846" y="423" width="1" height="25" fill="#f74b60"/>
<rect x="844" y="435" width="5" height="9" fill="#f74b60"/>
<rect x="852" y="431" width="1" height="18" fill="#2bc287"/>
<rect x="850" y="437" width="5" height="4" fill="#2bc287"/>
<rect x="858" y="429" width="1" height="16" fill="#f74b60"/>
<rect x="856" y="432" width="5" height="8" fill="#f74b60"/>
<rect x="864" y="423" width="1" height="18" fill="#f74b60"/>
<rect x="862" y="436" width="5" height="4" fill="#f74b60"/>
<rect x="870" y="423" width="1" height="18" fill="#2bc287"/>
<rect x="868" y="436" width="5" height="2" fill="#2bc287"/>
<rect x="876" y="425" width="1" height="23" fill="#f74b60"/>
<rect x="874" y="431" width="5" height="13" fill="#f74b60"/>
<rect x="882" y="423" width="1" height="20" fill="#2bc287"/>
<rect x="880" y="437" width="5" height="4" fill="#2bc287"/>
<rect x="888" y="425" width="1" height="24" fill="#2bc287"/>
<rect x="886" y="437" width="5" height="4" fill="#2bc287"/>
<rect x="894" y="385" width="1" height="73" fill="#2bc287"/>
<rect x="892" y="391" width="5" height="45" fill="#2bc287"/>
<rect x="900" y="329" width="1" height="67" fill="#2bc287"/>
<rect x="898" y="333" width="5" height="57" fill="#2bc287"/>
<rect x="906" y="301" width="1" height="39" fill="#2bc287"/>
<rect x="904" y="314" width="5" height="17" fill="#2bc287"/>
<rect x="912" y="292" width="1" height="28" fill="#2bc287"/>
<rect x="910" y="304" width="5" height="6" fill="#2bc287"/>
<rect x="918" y="283" width="1" height="26" fill="#2bc287"/>
<rect x="916" y="296" width="5" height="3" fill="#2bc287"/>
<rect x="924" y="283" width="1" height="17" fill="#2bc287"/>
<rect x="922" y="292" width="5" height="4" fill="#2bc287"/>
<rect x="930" y="282" width="1" height="17" fill="#f74b60"/>
<rect x="928" y="292" width="5" height="5" fill="#f74b60"/>
<rect x="936" y="283" width="1" height="17" fill="#f74b60"/>
<rect x="934" y="296" width="5" height="3" fill="#f74b60"/>
<rect x="942" y="282" width="1" height="75" fill="#f74b60"/>
<rect x="940" y="298" width="5" height="55" fill="#f74b60"/>
<rect x="948" y="339" width="1" height="18" fill="#2bc287"/>
<rect x="946" y="350" width="5" height="1" fill="#2bc287"/>
<rect x="954" y="339" width="1" height="74" fill="#f74b60"/>
<rect x="952" y="351" width="5" height="48" fill="#f74b60"/>
<rect x="960" y="357" width="1" height="46" fill="#2bc287"/>
<rect x="958" y="368" width="5" height="27" fill="#2bc287"/>
<rect x="966" y="348" width="1" height="24" fill="#2bc287"/>
<rect x="964" y="356" width="5" height="16" fill="#2bc287"/>
<rect x="972" y="348" width="1" height="18" fill="#f74b60"/>
<rect x="970" y="356" width="5" height="10" fill="#f74b60"/>
<rect x="978" y="348" width="1" height="18" fill="#f74b60"/>
<rect x="976" y="360" width="5" height="3" fill="#f74b60"/>
<rect x="984" y="348" width="1" height="18" fill="#f74b60"/>
<rect x="982" y="358" width="5" height="3" fill="#f74b60"/>
<rect x="990" y="348" width="1" height="18" fill="#2bc287"/>
<rect x="988" y="358" width="5" height="3" fill="#2bc287"/>
<rect x="996" y="348" width="1" height="17" fill="#2bc287"/>
<rect x="994" y="354" width="5" height="5" fill="#2bc287"/>
<rect x="1002" y="348" width="1" height="17" fill="#f74b60"/>
<rect x="1000" y="359" width="5" height="3" fill="#f74b60"/>
<rect x="1008" y="349" width="1" height="17" fill="#f74b60"/>
<rect x="1006" y="358" width="5" height="5" fill="#f74b60"/>
<rect x="1014" y="354" width="1" height="20" fill="#2bc287"/>
<rect x="1012" y="362" width="5" height="3" fill="#2bc287"/>
<rect x="1020" y="358" width="1" height="46" fill="#f74b60"/>
<rect x="1018" y="358" width="5" height="46" fill="#f74b60"/>
<rect x="1026" y="329" width="1" height="93" fill="#2bc287"/>
<rect x="1024" y="334" width="5" height="66" fill="#2bc287"/>
<rect x="1032" y="324" width="1" height="61" fill="#f74b60"/>
<rect x="1030" y="329" width="5" height="54" fill="#f74b60"/>
<rect x="1038" y="338" width="1" height="56" fill="#2bc287"/>
<rect x="1036" y="370" width="5" height="7" fill="#2bc287"/>
<rect x="1044" y="366" width="1" height="18" fill="#f74b60"/>
<rect x="1042" y="372" width="5" height="7" fill="#f74b60"/>
<rect x="1050" y="368" width="1" height="16" fill="#2bc287"/>
<rect x="1048" y="376" width="5" height="3" fill="#2bc287"/>
<path d="M56 376.5H1113" stroke="#2bc287" stroke-width="1" stroke-dasharray="1 2" fill="none"/>
<path d="M1114 368h41a2 2 0 0 1 2 2v13a2 2 0 0 1 -2 2h-41z" fill="#2bc287" shape-rendering="auto"/>
</svg>
<span class="t" style="left:1121.2px;top:221.0px;font-size:12px;line-height:18px;color:#8c8f96;">6.500</span>
<span class="t" style="left:1121.2px;top:255.0px;font-size:12px;line-height:18px;color:#8c8f96;">6.450</span>
<span class="t" style="left:1121.2px;top:288.0px;font-size:12px;line-height:18px;color:#8c8f96;">6.400</span>
<span class="t" style="left:1121.2px;top:321.0px;font-size:12px;line-height:18px;color:#8c8f96;">6.350</span>
<span class="t" style="left:1121.2px;top:354.0px;font-size:12px;line-height:18px;color:#8c8f96;">6.300</span>
<span class="t" style="left:1121.2px;top:388.0px;font-size:12px;line-height:18px;color:#8c8f96;">6.250</span>
<span class="t" style="left:1121.2px;top:421.0px;font-size:12px;line-height:18px;color:#8c8f96;">6.200</span>
<span class="t" style="left:1121.2px;top:454.0px;font-size:12px;line-height:18px;color:#8c8f96;">6.150</span>
<span class="t" style="left:1121.2px;top:487.0px;font-size:12px;line-height:18px;color:#8c8f96;">6.100</span>
<span class="t" style="left:1121.2px;top:521.0px;font-size:12px;line-height:18px;color:#8c8f96;">6.050</span>
<span class="t" style="left:1121.2px;top:367.5px;font-size:12px;line-height:18px;color:#000;">6.280</span>
<span class="t" style="left:1121.0px;top:540.0px;font-size:12px;line-height:18px;color:#8c8f96;transform:scaleX(0.9216);transform-origin:0 50%;">6 K</span>
<span class="t" style="left:1121.0px;top:571.0px;font-size:12px;line-height:18px;color:#8c8f96;transform:scaleX(0.9216);transform-origin:0 50%;">4 K</span>
<span class="t" style="left:1121.0px;top:602.0px;font-size:12px;line-height:18px;color:#8c8f96;transform:scaleX(0.9216);transform-origin:0 50%;">2 K</span>
<span class="t" style="left:71.6px;top:647.5px;font-size:12px;line-height:18px;color:#8a8d93;font-weight:700;">19</span>
<span class="t" style="left:215.6px;top:647.5px;font-size:12px;line-height:18px;color:#8a8d93;font-weight:700;">20</span>
<span class="t" style="left:359.6px;top:647.5px;font-size:12px;line-height:18px;color:#8a8d93;font-weight:700;">21</span>
<span class="t" style="left:503.6px;top:647.5px;font-size:12px;line-height:18px;color:#8a8d93;font-weight:700;">22</span>
<span class="t" style="left:647.6px;top:647.5px;font-size:12px;line-height:18px;color:#8a8d93;font-weight:700;">23</span>
<span class="t" style="left:791.6px;top:647.5px;font-size:12px;line-height:18px;color:#8a8d93;font-weight:700;">24</span>
<span class="t" style="left:935.6px;top:647.5px;font-size:12px;line-height:18px;color:#8a8d93;font-weight:700;">25</span>
<span class="t" style="left:1079.6px;top:647.5px;font-size:12px;line-height:18px;color:#8a8d93;font-weight:700;">26</span>
<div class="a" style="left:60px;top:549px;width:96px;height:20px;background:rgba(255,255,255,0.5)"></div>
<span class="t" style="left:65.0px;top:205.5px;font-size:16px;line-height:22px;color:#96989f;">BTG/USDT</span>
<span class="t" style="left:149.0px;top:205.5px;font-size:16px;line-height:22px;color:#6f727c;font-weight:700;">·</span>
<span class="t" style="left:158.3px;top:205.5px;font-size:16px;line-height:22px;color:#96989f;">1h</span>
<span class="t" style="left:178.5px;top:205.5px;font-size:16px;line-height:22px;color:#6f727c;font-weight:700;">·</span>
<span class="t" style="left:188.0px;top:205.5px;font-size:16px;line-height:22px;color:#96989f;">GATE</span>
<span class="t" style="left:237.9px;top:209.1px;font-size:13px;line-height:19px;color:#96989f;">O</span>
<span class="t" style="left:249.3px;top:209.1px;font-size:13px;line-height:19px;color:#2bc287;">6.277</span>
<span class="t" style="left:288.1px;top:209.1px;font-size:13px;line-height:19px;color:#96989f;">H</span>
<span class="t" style="left:298.1px;top:209.1px;font-size:13px;line-height:19px;color:#2bc287;">6.293</span>
<span class="t" style="left:337.0px;top:209.1px;font-size:13px;line-height:19px;color:#96989f;">L</span>
<span class="t" style="left:344.9px;top:209.1px;font-size:13px;line-height:19px;color:#2bc287;">6.268</span>
<span class="t" style="left:383.2px;top:209.1px;font-size:13px;line-height:19px;color:#96989f;">C</span>
<span class="t" style="left:393.7px;top:209.1px;font-size:13px;line-height:19px;color:#2bc287;">6.280</span>
<span class="t" style="left:432.0px;top:209.1px;font-size:13px;line-height:19px;color:#2bc287;">0.003 (+0.05%)</span>
<span class="t" style="left:65.5px;top:548.0px;font-size:13px;line-height:19px;color:#96989f;">Volume</span>
<span class="t" style="left:116.5px;top:548.0px;font-size:13px;line-height:19px;color:#2bc287;transform:scaleX(0.9578);transform-origin:0 50%;">1.52 K</span>
<svg class="a" style="left:0;top:202px" width="56" height="460" viewBox="0 202 56 460" fill="none" stroke="#4f5470" stroke-width="1.1"><path d="M26.5 215v8M26.5 230v8M15 226.5h8M30 226.5h8" stroke="#2962ff" stroke-width="1" shape-rendering="crispEdges"/><circle cx="34.500" cy="253.500" r="2.400"/><circle cx="17.500" cy="270.500" r="2.400"/><path d="M19.2 268.8L32.8 255.2"/><path d="M15 288.5h22M15 294.5h19.5M15 300.5h22M18 306.5h19" shape-rendering="crispEdges"/><circle cx="36.5" cy="294.5" r="2.400" fill="#fff"/><circle cx="15.5" cy="306.5" r="2.400" fill="#fff"/><path d="M17.5 342.5L20.5 324.5L24.5 332.5L32.5 325.5L35.5 339.5L24.5 332.5L17.5 342.5"/><circle cx="17.5" cy="342.5" r="2.400" fill="#fff"/><circle cx="20.5" cy="324.5" r="2.400" fill="#fff"/><circle cx="24.5" cy="332.5" r="2.400" fill="#fff"/><circle cx="32.5" cy="325.5" r="2.400" fill="#fff"/><circle cx="35.5" cy="339.5" r="2.400" fill="#fff"/><path d="M18.5 362.5H36M18.5 372.5H32.5M18.5 378.5H36" shape-rendering="crispEdges"/><path d="M21 369.5L35 364.5" stroke-dasharray="1.5 2"/><circle cx="16.5" cy="362.5" r="2.400" fill="#fff"/><circle cx="16.5" cy="372.5" r="2.400" fill="#fff"/><circle cx="34.5" cy="372.5" r="2.400" fill="#fff"/><circle cx="16.5" cy="378.5" r="2.400" fill="#fff"/><path d="M14.5 414.5c2-3 4-9 8-10.5s7 1 7 4-3 6.500-7 6.500z"/><path d="M29 399c0 3 2 5 4.500 4.500M32 405l7.500-6.500"/><path d="M19.5 436.5v-3h14v3M26.5 433.5v17M23.5 450.5h6" /><circle cx="26" cy="477.500" r="10.500"/><circle cx="22.500" cy="474.500" r="1" fill="#4f5470" stroke="none"/><circle cx="29.500" cy="474.500" r="1" fill="#4f5470" stroke="none"/><path d="M21.500 480.500c2.500 3 6.500 3 9 0"/><path d="M8 502.500h36" stroke="#e1e2e6" shape-rendering="crispEdges"/><g transform="rotate(-45 26 526.5)"><rect x="12.5" y="522.5" width="27" height="8" rx="1"/><path d="M16.5 522.5v3M20.5 522.5v4.5M24.5 522.5v3M28.5 522.5v4.5M32.5 522.5v3M36.5 522.5v3"/></g><circle cx="24.500" cy="561.500" r="8"/><path d="M24.500 557.500v8M20.500 561.500h8M30.500 567.500l4 4"/><path d="M8 587.500h36" stroke="#e1e2e6" shape-rendering="crispEdges"/><path d="M18.500 620.500v-10.500a7.500 7.500 0 0 1 15 0v10.500h-5v-10.500a2.500 2.500 0 0 0 -5 0v10.500zM18.500 616.500h5M28.500 616.500h5"/><path d="M15.500 653.500l1.300-5.800 10.200-8.400a2.400 2.400 0 0 1 3.600 4.400l-10.200 8.400zM25.300 640.700l3.600 4.400M16.800 647.700l3.600 4.400"/><rect x="27.500" y="652" width="8" height="6.500" rx="1" fill="#fff"/><circle cx="31.500" cy="655.300" r="0.500"/><path d="M29.500 652v-2.300a2.100 2.100 0 0 1 4.200 -0.200"/></svg>
<div class="a" style="left:46px;top:586px;width:9px;height:27px;background:#fff;border:1px solid #ebebee;border-radius:4.500px;box-sizing:border-box"></div>
<svg class="a" style="left:47.500px;top:595.500px" width="5" height="8" viewBox="0 0 5 8"><path d="M4 0.800L1.200 4l2.800 3.200" fill="none" stroke="#b2b5be" stroke-width="1"/></svg>
<div class="a" style="left:67.500px;top:597px;width:34px;height:34px;border-radius:50%;background:#fff;box-shadow:0 0 2px rgba(0,0,0,0.14)"></div>
<svg class="a" style="left:73.800px;top:609px" width="21.500" height="11" viewBox="0 0 36 18" preserveAspectRatio="none"><path d="M14 18H7V7H0V0h14zM36 0l-7.500 18h-8L28 0zM20 7a3.500 3.500 0 1 1 0-7 3.500 3.500 0 0 1 0 7z" fill="#1a1a1a"/></svg>
<svg class="a" style="left:1131px;top:650.5px" width="17" height="14" viewBox="0 0 17 14"><path d="M5.05 1h6.9l3.45 6-3.45 6H5.05L1.600 7z" fill="none" stroke="#1a1a1a" stroke-width="1.100"/><circle cx="8.500" cy="7" r="1.900" fill="none" stroke="#1a1a1a" stroke-width="1.100"/></svg>
</body></html>
